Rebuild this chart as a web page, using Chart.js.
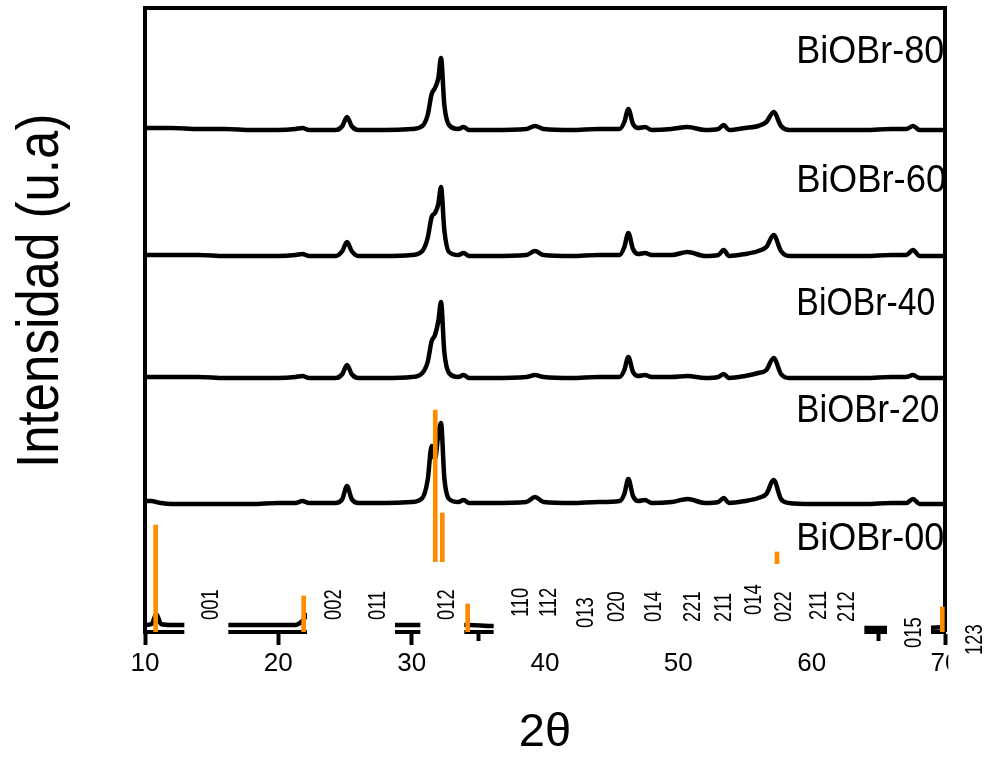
<!DOCTYPE html>
<html>
<head>
<meta charset="utf-8">
<script src="https://cdn.jsdelivr.net/npm/chart.js@4.4.1/dist/chart.umd.min.js"></script>
<style>
  html, body { margin: 0; padding: 0; background: #fff; }
  canvas { display: block; }
</style>
</head>
<body>
<canvas id="xrd" width="987" height="757"></canvas>
<script>
// 2θ points (same grid for every sample)
const twoTheta = [10, 10.5, 10.85, 11.2, 12, 14, 16, 18, 20, 21.3, 21.8, 22.3, 24.3, 24.8, 25.15, 25.5, 26.0,
    28, 30.0, 30.8, 31.2, 31.5, 31.75, 32.0, 32.2, 32.45, 32.8, 33.5, 33.9, 34.3, 36, 38.6, 39.25, 39.9,
    42, 44, 45.6, 45.95, 46.25, 46.6, 47.0, 47.5, 48.0, 49.5, 50.7, 52.0, 53.0, 53.4, 53.8,
    55.0, 56.0, 56.6, 57.15, 57.7, 58.3, 60, 62, 64, 66, 67.1, 67.6, 68.1, 70];

const patternNames = ['BiOBr-00', 'BiOBr-20', 'BiOBr-40', 'BiOBr-60', 'BiOBr-80'];
// vertical shift of every pattern (stacked plot, a.u.)
const patternOffsets = [4, 128, 254, 376, 502];

// intensities above each baseline (a.u.)
const bioBr00 = [3, 4, 14, 4, 3, 3, 3, 3, 3, 3, 7, 14, 3, 3, 3, 3, 3,
    3, 3, 3, 3, 3, 3, 3, 3, 3, 3, 3, 3, 3, 2, 2, 2, 2,
    2, 2, 2, 2, 2, 2, 2, 2, 2, 1, 1, 1, 1, 1, 1,
    1, 1, 1, 1, 1, 1, 0, 0, 0, 0, 0, 0, 0, 1];
const bioBr20 = [3, 3, 2, 1, 0, 0, 0, 0, 1, 1, 3, 1, 1, 5, 18, 5, 1,
    1, 2, 6, 24, 58, 45, 70, 81, 26, 5, 2, 4, 1, 1, 2, 7, 2,
    1, 2, 3, 10, 25, 8, 3, 4, 1, 2, 5, 1, 2, 6, 1,
    3, 6, 10, 24, 5, 1, 0, 0, 0, 1, 1, 5, 0, 0];
const bioBr40 = [1, 1, 1, 1, 1, 1, 0, 0, 0, 1, 2, 0, 0, 4, 13, 4, 0,
    0, 1, 5, 16, 37, 43, 57, 76, 26, 5, 1, 3, 0, 0, 1, 3, 1,
    0, 1, 1, 8, 21, 6, 2, 3, 1, 1, 2, 0, 1, 4, 0,
    2, 5, 8, 20, 4, 0, 0, 0, 0, 1, 1, 3, 0, 0];
const bioBr60 = [1, 1, 1, 1, 1, 1, 0, 0, 0, 1, 2, 0, 0, 5, 14, 5, 0,
    0, 1, 5, 18, 39, 43, 52, 69, 26, 4, 1, 3, 0, 0, 1, 5, 1,
    0, 1, 1, 9, 23, 7, 2, 3, 1, 1, 4, 0, 1, 6, 0,
    2, 5, 9, 21, 5, 0, 0, 0, 0, 1, 1, 6, 0, 0];
const bioBr80 = [2, 2, 2, 2, 2, 1, 1, 0, 0, 1, 2, 0, 0, 4, 13, 4, 0,
    0, 1, 4, 15, 36, 42, 52, 72, 25, 5, 1, 3, 0, 0, 1, 4, 1,
    0, 1, 1, 8, 21, 6, 2, 3, 0, 1, 3, 0, 1, 5, 0,
    2, 4, 8, 18, 4, 0, 0, 0, 0, 1, 1, 4, 0, 0];

// reference card sticks (orange)
const stickPos = [10.8, 21.9, 31.77, 32.3, 34.2, 57.4, 69.8];
const stickHeight = [107, 36, 222, 119, 28, 80, 25];

// Miller index labels along the bottom
const hklNames = ['001', '002', '011', '012', '110', '112', '013', '020', '014', '221', '211', '014', '022', '211', '212', '015', '123'];
const hklPos = [14.9, 24.1, 27.4, 32.6, 38.1, 40.2, 43.0, 45.3, 48.1, 51.0, 53.35, 55.6, 57.85, 60.5, 62.6, 67.6, 72.2];

const xTickLabels = [10, 20, 30, 40, 50, 60, 70];

const SANS = '"Liberation Sans", Arial, sans-serif';
const NARROW = '"Liberation Sans Narrow", "Liberation Sans", Arial, sans-serif';

function squeezedText(ctx, text, x, y, sx, angle) {
    ctx.save();
    ctx.translate(x, y);
    if (angle) ctx.rotate(angle);
    ctx.scale(sx, 1);
    ctx.fillText(text, 0, 0);
    ctx.restore();
}

// frame on top/right, sample names, hkl boxes and y title
const overlay = {
    id: 'overlay',
    beforeDatasetsDraw(chart) {
        const { ctx, chartArea: a } = chart;
        ctx.save();
        ctx.strokeStyle = '#000';
        ctx.lineWidth = 4;
        ctx.beginPath();
        ctx.moveTo(a.left - 2, a.top);
        ctx.lineTo(a.right, a.top);
        ctx.lineTo(a.right, a.bottom);
        ctx.stroke();
        ctx.restore();
    },
    afterDatasetsDraw(chart, args, opts) {
        const { ctx } = chart;
        const xs = chart.scales.x, ys = chart.scales.y;
        ctx.save();
        ctx.fillStyle = '#000';
        ctx.textBaseline = 'alphabetic';
        ctx.textAlign = 'left';

        // sample names
        ctx.font = '39px ' + SANS;
        patternNames.forEach((name, k) => {
            const w = ctx.measureText(name).width;
            squeezedText(ctx, name, xs.getPixelForValue(opts.nameX), ys.getPixelForValue(opts.nameY[k]),
                opts.nameWidth[k] / w, 0);
        });

        // white boxes behind the hkl labels (they hide the axis under them)
        ctx.fillStyle = '#fff';
        hklNames.forEach((h, i) => {
            const cx = xs.getPixelForValue(hklPos[i]);
            const bottom = opts.hklBottom[i];
            ctx.fillRect(cx - 26, bottom - 31 - 27, 44, 31 + 27 + 30);
        });
        ctx.fillStyle = '#000';
        ctx.font = '23px ' + SANS;
        hklNames.forEach((h, i) => {
            const cx = xs.getPixelForValue(hklPos[i]);
            squeezedText(ctx, h, cx + 8, opts.hklBottom[i], 0.8, -Math.PI / 2);
        });

        // y axis title
        ctx.font = '60px ' + SANS;
        squeezedText(ctx, 'Intensidad (u.a)', 58, 468, 0.85, -Math.PI / 2);
        ctx.restore();
    }
};

const datasets = [{
    type: 'bar',
    label: 'ref',
    data: stickPos.map((p, i) => ({ x: p, y: [0, stickHeight[i]] })),
    backgroundColor: '#ff8c00',
    barThickness: 4,
    grouped: false
}].concat([bioBr00, bioBr20, bioBr40, bioBr60, bioBr80].map((vals, k) => ({
    type: 'line',
    label: patternNames[k],
    data: twoTheta.map((t, i) => ({ x: t, y: patternOffsets[k] + vals[i] })),
    borderColor: '#000',
    borderWidth: 4.5,
    pointRadius: 0,
    cubicInterpolationMode: 'monotone',
    borderJoinStyle: 'round',
    borderCapStyle: 'round',
    fill: false
})));

new Chart(document.getElementById('xrd'), {
    type: 'line',
    data: { datasets },
    plugins: [overlay],
    options: {
        responsive: false,
        animation: false,
        layout: { padding: { top: 8, right: 42, left: 0, bottom: 0 } },
        plugins: {
            legend: { display: false },
            tooltip: { enabled: false },
            overlay: {
                nameX: 58.85,
                nameY: [82, 210, 317, 440, 569],
                nameWidth: [148, 143, 139, 150, 148],
                hklBottom: [620, 620, 620, 620, 617, 617, 628, 622, 622, 622, 622, 615, 622, 620, 622, 648, 655]
            }
        },
        scales: {
            x: {
                type: 'linear',
                min: 10,
                max: 70,
                offset: false,
                grid: {
                    drawOnChartArea: false,
                    offset: false,
                    tickLength: 13,
                    tickWidth: 4,
                    tickColor: '#000',
                    tickBorderDash: c => (c.tick && c.tick.value % 10 !== 0) ? [7, 60] : []
                },
                border: { width: 4, color: '#000' },
                ticks: {
                    stepSize: 5,
                    autoSkip: false,
                    maxRotation: 0,
                    padding: 3,
                    color: '#000',
                    font: { family: NARROW, size: 26 },
                    callback: v => xTickLabels.includes(v) ? String(v) : ''
                },
                title: {
                    display: true,
                    text: '2θ',
                    color: '#000',
                    font: { family: SANS, size: 47, lineHeight: 1 },
                    padding: 0
                },
                afterFit: s => { s.height = 125; }
            },
            y: {
                min: 0,
                max: 624,
                grid: { display: false },
                border: { width: 4, color: '#000' },
                ticks: { display: false },
                afterFit: s => { s.width = 145; }
            }
        }
    }
});
</script>
</body>
</html>
